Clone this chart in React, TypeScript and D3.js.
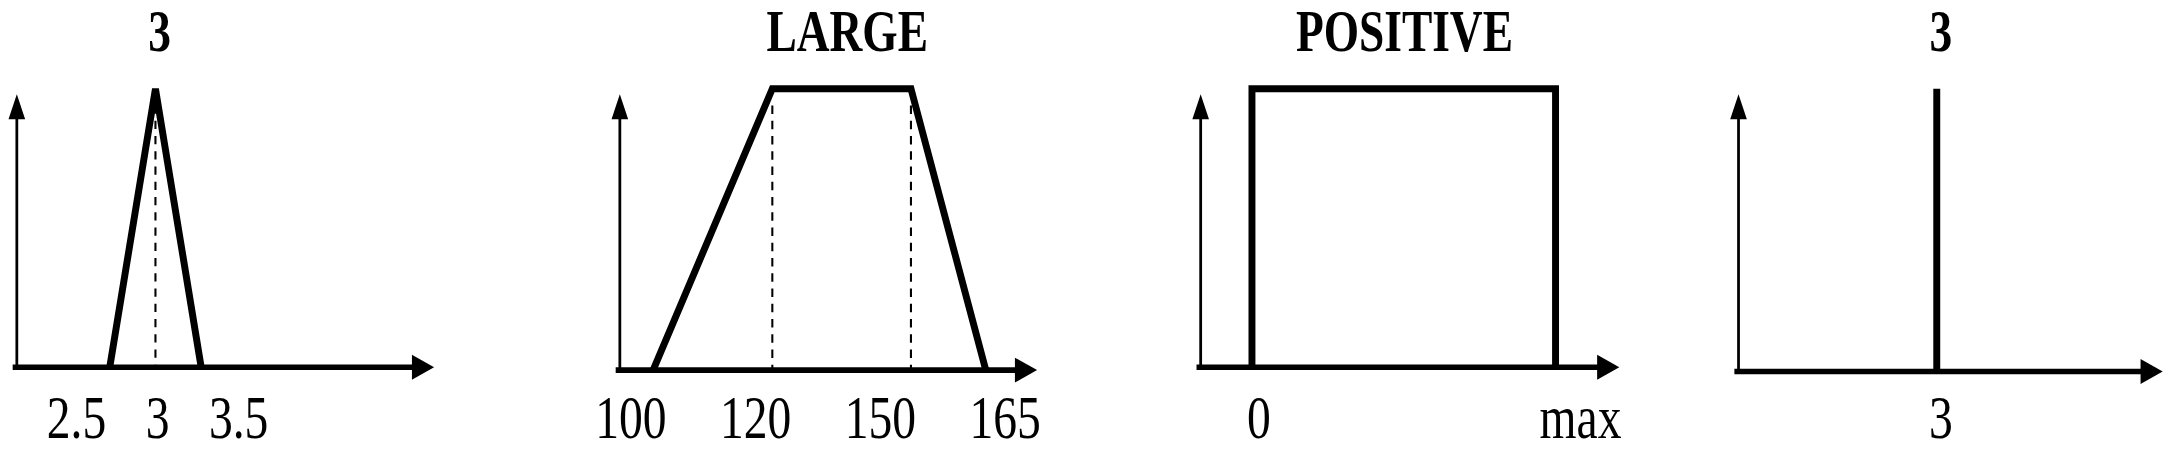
import React from 'react';
import * as d3 from 'd3';

// membership shapes: [x, mu] pairs
const triangle: [number, number][] = [[2.5, 0], [3, 1], [3.5, 0]];
const trapezoid: [number, number][] = [[100, 0], [120, 1], [150, 1], [165, 0]];
const rectangle: [number, number][] = [[0, 0], [0, 1], [1, 1], [1, 0]];
const singleton: [number, number][] = [[3, 0], [3, 1]];

const titles = ['3', 'LARGE', 'POSITIVE', '3'];
const tickLabels = [['2.5', '3', '3.5'], ['100', '120', '150', '165'], ['0', 'max'], ['3']];

interface PanelDef {
  pts: [number, number][];
  domain: number[];
  range: number[];
  axisX: number;
  axisEnd: number;
  base: number;
  labelRange: [number, number];
  titleX: number;
  dashed: number[];
}

const panels: PanelDef[] = [
  { pts: triangle, domain: [2.5, 3.5], range: [79, 145], axisX: 12, axisEnd: 313, base: 265, labelRange: [55, 172], titleX: 115, dashed: [3] },
  { pts: trapezoid, domain: [100, 120, 150, 165], range: [471, 557, 657, 711], axisX: 447, axisEnd: 748, base: 267, labelRange: [455, 725], titleX: 611, dashed: [120, 150] },
  { pts: rectangle, domain: [0, 1], range: [903, 1122], axisX: 866, axisEnd: 1168, base: 265, labelRange: [908, 1140], titleX: 1013, dashed: [] },
  { pts: singleton, domain: [2, 4], range: [1254, 1540], axisX: 1254, axisEnd: 1560, base: 268, labelRange: [1400, 1400], titleX: 1400, dashed: [] },
];

const font = '"Liberation Serif", "Times New Roman", serif';

const Label: React.FC<{ x: number; y: number; bold?: boolean; children: React.ReactNode }> = ({ x, y, bold, children }) => (
  <text transform={`translate(${x},${y}) scale(0.78,1)`} textAnchor="middle" fontFamily={font}
    fontWeight={bold ? 'bold' : 'normal'} fontSize={bold ? 42 : 44}>{children}</text>
);

const Panel: React.FC<{ p: PanelDef; i: number }> = ({ p, i }) => {
  const x = d3.scaleLinear().domain(p.domain).range(p.range);
  const y = d3.scaleLinear().domain([0, 1]).range([p.base, 64]);
  const line = d3.line<[number, number]>().x((d) => x(d[0])).y((d) => y(d[1]));
  const labels = tickLabels[i];
  const lx = d3.scalePoint<string>().domain(labels).range(p.labelRange);
  const ah = 9;
  return (
    <g>
      <Label x={p.titleX} y={37} bold>{titles[i]}</Label>
      {/* y axis */}
      <line x1={p.axisX} y1={p.base} x2={p.axisX} y2={84} stroke="#000" strokeWidth={2} />
      <path d={`M${p.axisX},68 L${p.axisX - 6},86 L${p.axisX + 6},86 Z`} fill="#000" />
      {/* x axis */}
      <line x1={p.axisX - 3} y1={p.base} x2={p.axisEnd - 14} y2={p.base} stroke="#000" strokeWidth={4} />
      <path d={`M${p.axisEnd},${p.base} L${p.axisEnd - 16},${p.base - ah} L${p.axisEnd - 16},${p.base + ah} Z`} fill="#000" />
      {p.dashed.map((v) => (
        <line key={v} x1={x(v)} y1={y(0.94)} x2={x(v)} y2={p.base} stroke="#000" strokeWidth={1.5} strokeDasharray="6,5" />
      ))}
      <path d={line(p.pts) ?? ''} fill="none" stroke="#000" strokeWidth={5} strokeLinejoin="miter" />
      {labels.map((l) => (
        <Label key={l} x={lx(l) ?? (p.labelRange[0] + p.labelRange[1]) / 2} y={316}>{l}</Label>
      ))}
    </g>
  );
};

export default function App() {
  return (
    <svg width={2174} height={463} viewBox="0 0 1568 334" style={{ position: 'absolute', left: 0, top: 0, background: '#fff' }}>
      <rect width={1568} height={334} fill="#fff" />
      {panels.map((p, i) => <Panel key={i} p={p} i={i} />)}
    </svg>
  );
}
